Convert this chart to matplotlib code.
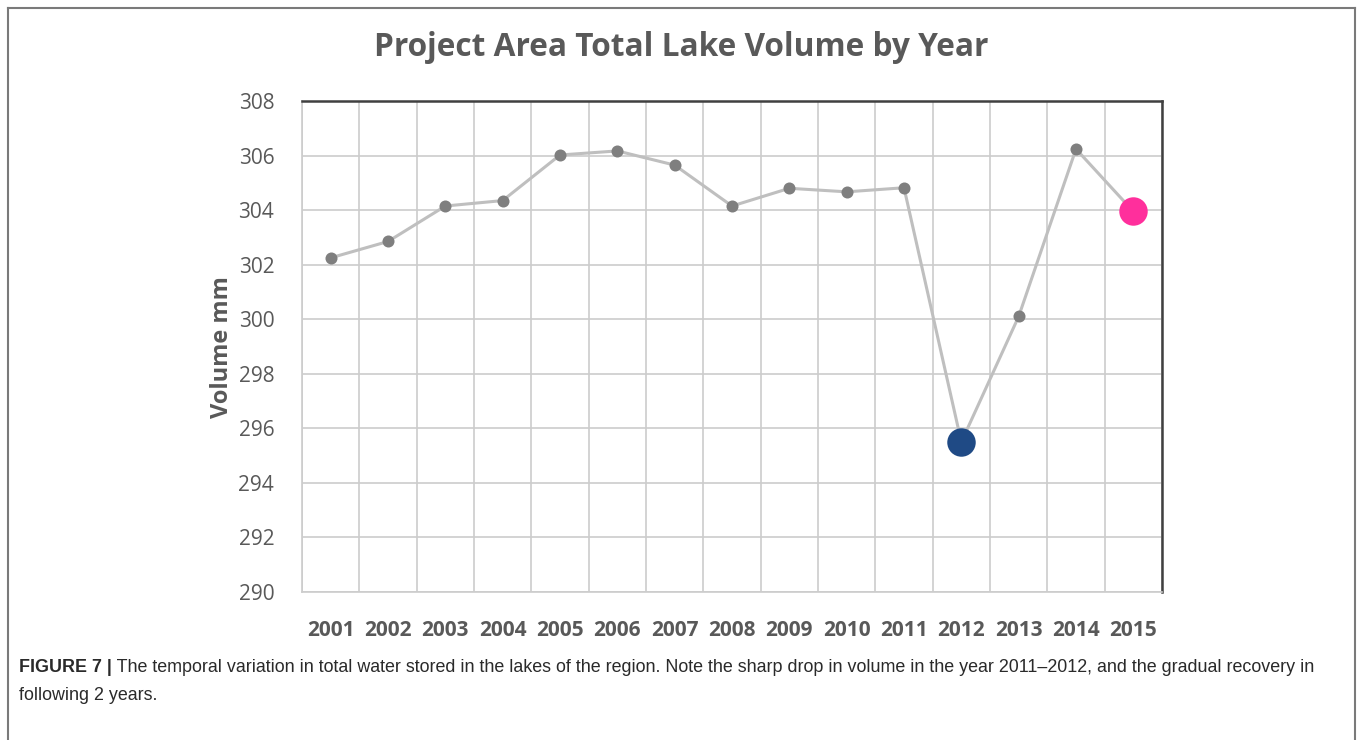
import matplotlib
matplotlib.use("Agg")
import matplotlib.pyplot as plt
from matplotlib.lines import Line2D
import numpy as np

years = ["2001", "2002", "2003", "2004", "2005", "2006", "2007", "2008",
         "2009", "2010", "2011", "2012", "2013", "2014", "2015"]
volume = [302.25, 302.85, 304.15, 304.35, 306.02, 306.17, 305.65, 304.15,
          304.8, 304.67, 304.82, 295.5, 300.1, 306.24, 303.95]
y_ticks = [290, 292, 294, 296, 298, 300, 302, 304, 306, 308]
highlight = {"2012": "#1f4a85", "2015": "#ff2f9c"}

title = "Project Area Total Lake Volume by Year"
ylabel = "Volume mm"
caption_bold = "FIGURE 7 |"
caption_1 = (" The temporal variation in total water stored in the lakes of the region. "
             "Note the sharp drop in volume in the year 2011\u20132012, and the gradual recovery in")
caption_2 = "following 2 years."

W, H = 1358, 740
fig = plt.figure(figsize=(W / 100, H / 100), dpi=100)
fig.patch.set_facecolor("white")

def fx(px):
    return px / W

def fy(py):
    return 1 - py / H

ax = fig.add_axes([fx(302), fy(592), fx(1162) - fx(302), fy(101) - fy(592)])
x = np.arange(len(years))
ax.plot(x, volume, color="#bfbfbf", lw=2.2, zorder=3)
ax.scatter(x, volume, s=75, color="#7f7f7f", zorder=4, linewidths=0)
for yr, col in highlight.items():
    i = years.index(yr)
    ax.scatter([x[i]], [volume[i]], s=420, color=col, zorder=5, linewidths=0)

ax.set_xlim(-0.5, len(years) - 0.5)
ax.set_ylim(290, 308)
ax.set_yticks(y_ticks)
ax.set_yticklabels([str(v) for v in y_ticks])
ax.set_xticks(x)
ax.set_xticklabels(years)
ax.set_xticks(np.arange(len(years) + 1) - 0.5, minor=True)
ax.grid(True, which="major", axis="y", color="#cccccc", lw=1.2)
ax.grid(True, which="minor", axis="x", color="#cccccc", lw=1.2)
ax.tick_params(which="both", length=0)
ax.tick_params(axis="y", pad=20, labelsize=15, labelcolor="#595959")
ax.tick_params(axis="x", pad=20, labelsize=15, labelcolor="#595959")
for lab in ax.get_yticklabels():
    lab.set_fontfamily("Open Sans")
for lab in ax.get_xticklabels():
    lab.set_fontfamily("Open Sans")
    lab.set_fontweight("bold")
ax.spines["top"].set_color("#404040")
ax.spines["top"].set_linewidth(1.8)
ax.spines["right"].set_color("#404040")
ax.spines["right"].set_linewidth(1.8)
ax.spines["left"].set_color("#cccccc")
ax.spines["bottom"].set_color("#cccccc")
ax.spines["left"].set_linewidth(1.2)
ax.spines["bottom"].set_linewidth(1.2)
ax.set_axisbelow(True)

fig.text(fx(222), fy(347), ylabel, rotation=90, ha="center", va="center",
         fontsize=17, fontweight="bold", color="#595959", family="Open Sans")
fig.text(fx(681), fy(47), title, ha="center", va="center",
         fontsize=22.8, fontweight="bold", color="#595959", family="Open Sans")

# figure frame
frame_kw = dict(color="#7a7a7a", lw=1.5, transform=fig.transFigure)
fig.add_artist(Line2D([fx(8), fx(8)], [fy(8), 0], **frame_kw))
fig.add_artist(Line2D([fx(1355), fx(1355)], [fy(8), 0], **frame_kw))
fig.add_artist(Line2D([fx(8), fx(1355)], [fy(8), fy(8)], **frame_kw))

cap_font = ["Liberation Sans Narrow", "Liberation Sans", "DejaVu Sans"]
t = fig.text(fx(19), fy(667), caption_bold, ha="left", va="center",
             fontsize=12.9, fontweight="bold", color="#2a2a2a", family=cap_font)
fig.canvas.draw()
bb = t.get_window_extent()
fig.text(bb.x1 / W, fy(667), caption_1, ha="left", va="center",
         fontsize=12.9, color="#2a2a2a", family=cap_font)
fig.text(fx(19), fy(695), caption_2, ha="left", va="center",
         fontsize=12.9, color="#2a2a2a", family=cap_font)

fig.savefig("out.png", dpi=100, facecolor="white")
